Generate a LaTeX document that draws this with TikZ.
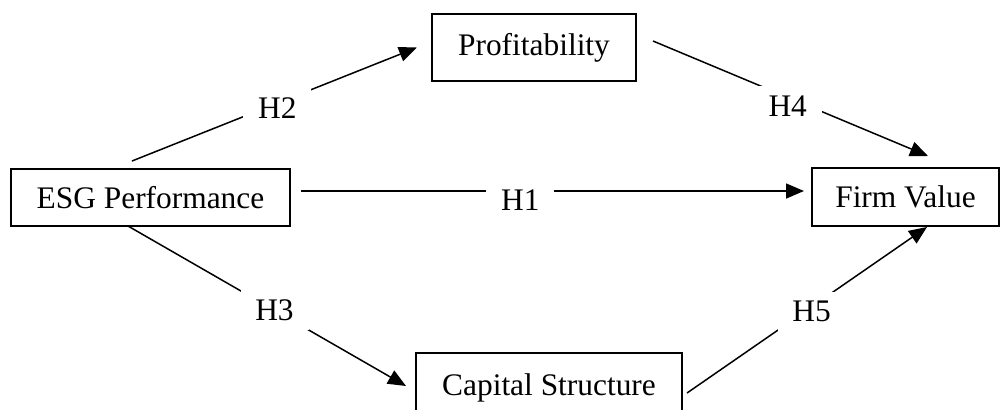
\documentclass[tikz,border=0pt]{standalone}
\usepackage{fontspec}
\setmainfont{Liberation Serif}
\usetikzlibrary{arrows.meta}

\begin{document}
\begin{tikzpicture}[x=0.5pt,y=-0.5pt,
    var/.style={draw, line width=1pt, inner sep=0pt, font=\fontsize{15.7}{19}\selectfont},
    hyp/.style={fill=white, inner sep=0pt, minimum width=34pt, minimum height=20pt, font=\fontsize{15.7}{19}\selectfont},
    arr/.style={line width=0.75pt, -{Triangle[length=9pt,width=7.5pt]}}]
    \useasboundingbox (0,0) rectangle (1001,409);
    \clip (0,0) rectangle (1001,409);
    \node[var, minimum width=139.5pt, minimum height=28.5pt](esg)  at (150.5,197.5) {ESG Performance};
    \node[var, minimum width=102pt, minimum height=33.5pt](prof)   at (534,47.5)    {Profitability};
    \node[var, minimum width=133pt, minimum height=35pt](cap)      at (549,388)     {Capital Structure};
    \node[var, minimum width=93.5pt, minimum height=29pt](firm)    at (905.5,197)   {Firm Value};
    % Hypotheses
    \path
        ([shift={(-18.5,-7)}]esg.north)
            edge [arr] node[hyp, pos=0.51, yshift=-2.5pt] {H2} ([shift={(-14,0)}]prof.west)
        ([shift={(10,-6.5)}]esg.east)
            edge [arr] node[hyp, pos=0.436, yshift=-4.5pt] {H1} ([shift={(-7,-6)}]firm.west)
        ([shift={(-22.5,-1)}]esg.south)
            edge [arr] node[hyp, pos=0.527] {H3} ([shift={(-9,-2)}]cap.west)
        ([shift={(16,-6.5)}]prof.east)
            edge [arr] node[hyp, pos=0.49, yshift=-4.5pt] {H4} ([shift={(22.5,-11)}]firm.north)
        ([shift={(4,5)}]cap.east)
            edge [arr] node[hyp, pos=0.519, yshift=-2.5pt] {H5} ([shift={(21.5,0)}]firm.south)
        ;
\end{tikzpicture}
\end{document}
